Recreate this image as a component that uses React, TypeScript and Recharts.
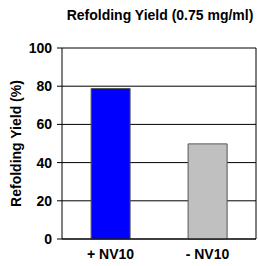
import { BarChart, Bar, XAxis, YAxis, CartesianGrid, Cell } from 'recharts';

const categories = ['+ NV10', '- NV10'];
const yieldValues = [78.8, 49.8];
const barColors = ['#0000FF', '#C0C0C0'];
const yTicks = [0, 20, 40, 60, 80, 100];

const data = categories.map((name, i) => ({ name, value: yieldValues[i] }));

const FONT = 'Arial, "Liberation Sans", sans-serif';
const tickStyle = { fontFamily: FONT, fontSize: 14, fontWeight: 700, fill: '#000' };

const emptyTick = () => <g />;

export default function App() {
  return (
    <div style={{ position: 'absolute', top: 0, left: 0, width: 258, height: 266, background: '#fff' }}>
      <div
        style={{
          position: 'absolute',
          top: 7,
          left: 41,
          width: 238,
          textAlign: 'center',
          fontFamily: FONT,
          fontSize: 14,
          fontWeight: 700,
          lineHeight: '16px',
          color: '#000',
          whiteSpace: 'nowrap'
        }}
      >
        Refolding Yield (0.75 mg/ml)
      </div>
      <BarChart
        width={258}
        height={266}
        data={data}
        margin={{ top: 48, right: 0, left: 0, bottom: 0 }}
        barCategoryGap="30%"
      >
        <CartesianGrid vertical={false} stroke="#000" strokeWidth={1} />
        <XAxis
          xAxisId="b"
          type="number"
          domain={[0, 2]}
          ticks={[1, 2]}
          height={4}
          axisLine={false}
          tickLine={{ stroke: '#000' }}
          tickSize={4}
          tick={emptyTick}
        />
        <XAxis
          dataKey="name"
          height={23}
          axisLine={{ stroke: '#000' }}
          tickLine={false}
          tickSize={0}
          tickMargin={10}
          tick={tickStyle}
        />
        <YAxis
          domain={[0, 100]}
          ticks={yTicks}
          width={62}
          axisLine={{ stroke: '#000' }}
          tickLine={{ stroke: '#000' }}
          tickSize={5}
          tickMargin={5}
          tick={tickStyle}
          label={{
            value: 'Refolding Yield (%)',
            angle: -90,
            position: 'insideLeft',
            offset: 16,
            textAnchor: 'middle',
            style: { ...tickStyle, textAnchor: 'middle' }
          }}
        />
        <YAxis
          yAxisId="r"
          orientation="right"
          domain={[0, 100]}
          width={2}
          tick={false}
          tickLine={false}
          axisLine={{ stroke: '#000' }}
        />
        <Bar dataKey="value" stroke="#555" strokeWidth={1} isAnimationActive={false}>
          {data.map((_, i) => (
            <Cell key={`cell-${i}`} fill={barColors[i]} />
          ))}
        </Bar>
      </BarChart>
    </div>
  );
}
